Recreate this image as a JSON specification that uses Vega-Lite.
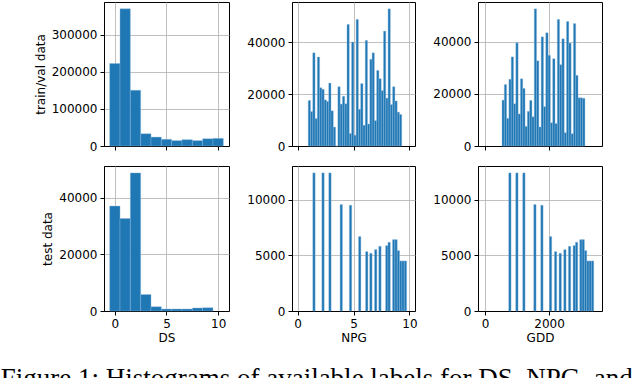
{
  "$schema": "https://vega.github.io/schema/vega-lite/v6.json",
  "background": "white",
  "padding": {"left": 0, "top": 1, "right": 0, "bottom": -14},
  "config": {
    "font": "DejaVu Sans",
    "view": {"stroke": "black", "strokeWidth": 1},
    "axis": {
      "labelFont": "DejaVu Sans", "labelFontSize": 12, "labelColor": "black",
      "titleFont": "DejaVu Sans", "titleFontSize": 12, "titleFontWeight": "normal", "titleColor": "black",
      "domainColor": "black", "domainWidth": 1, "tickColor": "black", "tickWidth": 1, "tickSize": 4,
      "labelPadding": 3, "titlePadding": 3, "gridColor": "#b0b0b0", "gridWidth": 0.8, "zindex": 1,
      "labelFlush": false, "labelOverlap": false
    },
    "axisX": {"labelAngle": 0},
    "axisY": {"titlePadding": 4}
  },
  "title": {
    "text": "Figure 1: Histograms of available labels for DS, NPG, and",
    "orient": "bottom", "anchor": "start", "frame": "bounds",
    "font": "Liberation Serif", "fontSize": 27, "fontWeight": "normal", "color": "black",
    "offset": 22.5, "dx": -33
  },
  "datasets": {
    "ds_train": [
      {"start": -0.5, "end": 0.5, "count": 222000}, {"start": 0.5, "end": 1.5, "count": 369000},
      {"start": 1.5, "end": 2.5, "count": 150000}, {"start": 2.5, "end": 3.5, "count": 33000},
      {"start": 3.5, "end": 4.5, "count": 24000}, {"start": 4.5, "end": 5.5, "count": 18000},
      {"start": 5.5, "end": 6.5, "count": 14500}, {"start": 6.5, "end": 7.5, "count": 17000},
      {"start": 7.5, "end": 8.5, "count": 14500}, {"start": 8.5, "end": 9.5, "count": 19500},
      {"start": 9.5, "end": 10.5, "count": 20500}
    ],
    "ds_test": [
      {"start": -0.5, "end": 0.5, "count": 37000}, {"start": 0.5, "end": 1.5, "count": 32600},
      {"start": 1.5, "end": 2.5, "count": 48700}, {"start": 2.5, "end": 3.5, "count": 5800},
      {"start": 3.5, "end": 4.5, "count": 1500}, {"start": 4.5, "end": 5.5, "count": 700},
      {"start": 5.5, "end": 6.5, "count": 700}, {"start": 6.5, "end": 7.5, "count": 700},
      {"start": 7.5, "end": 8.5, "count": 1050}, {"start": 8.5, "end": 9.5, "count": 1150}
    ],
    "npg_train": [
      {"start": 0.950, "end": 1.154, "count": 17600}, {"start": 1.154, "end": 1.358, "count": 13300},
      {"start": 1.358, "end": 1.562, "count": 36000}, {"start": 1.562, "end": 1.766, "count": 10600},
      {"start": 1.766, "end": 1.970, "count": 34400}, {"start": 1.970, "end": 2.174, "count": 22500},
      {"start": 2.174, "end": 2.378, "count": 21900}, {"start": 2.378, "end": 2.582, "count": 17800},
      {"start": 2.582, "end": 2.786, "count": 17200}, {"start": 2.786, "end": 2.990, "count": 24300},
      {"start": 2.990, "end": 3.194, "count": 13600}, {"start": 3.194, "end": 3.398, "count": 7300},
      {"start": 3.398, "end": 3.602, "count": 0}, {"start": 3.602, "end": 3.806, "count": 22900},
      {"start": 3.806, "end": 4.010, "count": 16200}, {"start": 4.010, "end": 4.214, "count": 19200},
      {"start": 4.214, "end": 4.418, "count": 16300}, {"start": 4.418, "end": 4.622, "count": 47000},
      {"start": 4.622, "end": 4.826, "count": 4800}, {"start": 4.826, "end": 5.030, "count": 40200},
      {"start": 5.030, "end": 5.234, "count": 4200}, {"start": 5.234, "end": 5.438, "count": 48900},
      {"start": 5.438, "end": 5.642, "count": 14200}, {"start": 5.642, "end": 5.846, "count": 24100},
      {"start": 5.846, "end": 6.050, "count": 8000}, {"start": 6.050, "end": 6.254, "count": 40800},
      {"start": 6.254, "end": 6.458, "count": 8500}, {"start": 6.458, "end": 6.662, "count": 33500},
      {"start": 6.662, "end": 6.866, "count": 36000}, {"start": 6.866, "end": 7.070, "count": 9800},
      {"start": 7.070, "end": 7.274, "count": 29200}, {"start": 7.274, "end": 7.478, "count": 26000},
      {"start": 7.478, "end": 7.682, "count": 21400}, {"start": 7.682, "end": 7.886, "count": 44400},
      {"start": 7.886, "end": 8.090, "count": 18500}, {"start": 8.090, "end": 8.294, "count": 53000},
      {"start": 8.294, "end": 8.498, "count": 16000}, {"start": 8.498, "end": 8.702, "count": 22900},
      {"start": 8.702, "end": 8.906, "count": 17400}, {"start": 8.906, "end": 9.110, "count": 13100},
      {"start": 9.110, "end": 9.314, "count": 12200}
    ],
    "npg_test": [
      {"start": 1.36, "end": 1.57, "count": 12430}, {"start": 2.17, "end": 2.38, "count": 12430},
      {"start": 2.79, "end": 3.00, "count": 12430}, {"start": 3.80, "end": 4.01, "count": 9580},
      {"start": 4.63, "end": 4.84, "count": 9520}, {"start": 5.45, "end": 5.66, "count": 6700},
      {"start": 6.08, "end": 6.29, "count": 5345}, {"start": 6.45, "end": 6.66, "count": 5195},
      {"start": 6.88, "end": 7.09, "count": 5525}, {"start": 7.26, "end": 7.47, "count": 5825},
      {"start": 7.87, "end": 8.08, "count": 5885}, {"start": 8.08, "end": 8.29, "count": 6185},
      {"start": 8.49, "end": 8.70, "count": 6425}, {"start": 8.70, "end": 8.91, "count": 6425},
      {"start": 8.91, "end": 9.12, "count": 5435}, {"start": 9.12, "end": 9.33, "count": 4505},
      {"start": 9.33, "end": 9.54, "count": 4505}, {"start": 9.54, "end": 9.75, "count": 4505}
    ],
    "gdd_train": [
      {"start": 530, "end": 602, "count": 17600}, {"start": 602, "end": 674, "count": 23600},
      {"start": 674, "end": 746, "count": 10600}, {"start": 746, "end": 818, "count": 25600},
      {"start": 818, "end": 890, "count": 34200}, {"start": 890, "end": 962, "count": 16200},
      {"start": 962, "end": 1034, "count": 39600}, {"start": 1034, "end": 1106, "count": 12300},
      {"start": 1106, "end": 1178, "count": 25800}, {"start": 1178, "end": 1250, "count": 22100},
      {"start": 1250, "end": 1322, "count": 7500}, {"start": 1322, "end": 1394, "count": 13300},
      {"start": 1394, "end": 1466, "count": 17500}, {"start": 1466, "end": 1538, "count": 11200},
      {"start": 1538, "end": 1610, "count": 52650}, {"start": 1610, "end": 1682, "count": 32700},
      {"start": 1682, "end": 1754, "count": 7300}, {"start": 1754, "end": 1826, "count": 41900},
      {"start": 1826, "end": 1898, "count": 15100}, {"start": 1898, "end": 1970, "count": 43450},
      {"start": 1970, "end": 2042, "count": 34800}, {"start": 2042, "end": 2114, "count": 8900},
      {"start": 2114, "end": 2186, "count": 33500}, {"start": 2186, "end": 2258, "count": 8600},
      {"start": 2258, "end": 2330, "count": 48600}, {"start": 2330, "end": 2402, "count": 31200},
      {"start": 2402, "end": 2474, "count": 41150}, {"start": 2474, "end": 2546, "count": 5100},
      {"start": 2546, "end": 2618, "count": 47800}, {"start": 2618, "end": 2690, "count": 39500},
      {"start": 2690, "end": 2762, "count": 4700}, {"start": 2762, "end": 2834, "count": 47000},
      {"start": 2834, "end": 2906, "count": 27100}, {"start": 2906, "end": 2978, "count": 18500},
      {"start": 2978, "end": 3050, "count": 18500}, {"start": 3050, "end": 3122, "count": 18300}
    ],
    "gdd_test": [
      {"start": 740, "end": 813, "count": 12430}, {"start": 959, "end": 1032, "count": 12430},
      {"start": 1178, "end": 1251, "count": 12430}, {"start": 1522, "end": 1595, "count": 9580},
      {"start": 1741, "end": 1814, "count": 9520}, {"start": 2011, "end": 2084, "count": 6700},
      {"start": 2168, "end": 2241, "count": 5345}, {"start": 2313, "end": 2386, "count": 5195},
      {"start": 2459, "end": 2532, "count": 5525}, {"start": 2605, "end": 2678, "count": 5825},
      {"start": 2751, "end": 2824, "count": 5885}, {"start": 2824, "end": 2897, "count": 6185},
      {"start": 2959, "end": 3032, "count": 6425}, {"start": 3032, "end": 3105, "count": 6425},
      {"start": 3105, "end": 3178, "count": 5435}, {"start": 3178, "end": 3251, "count": 4505},
      {"start": 3251, "end": 3324, "count": 4505}, {"start": 3324, "end": 3397, "count": 4505}
    ]
  },
  "columns": 3,
  "spacing": {"row": 20, "column": 63},
  "bounds": "flush",
  "align": "each",
  "concat": [
    {
      "data": {"name": "ds_train"}, "width": 125, "height": 144,
      "mark": {"type": "rect", "color": "#1f77b4", "stroke": "#8ab8de", "strokeWidth": 0.4},
      "encoding": {
        "x": {"field": "start", "type": "quantitative", "scale": {"domain": [-1.05, 11.05], "nice": false, "zero": false}, "axis": {"values": [0, 5, 10], "labels": false, "title": null}},
        "x2": {"field": "end"},
        "y": {"field": "count", "type": "quantitative", "scale": {"domain": [0, 387450], "nice": false}, "axis": {"values": [0, 100000, 200000, 300000], "format": "d", "title": "train/val data"}},
        "y2": {"datum": 0}
      }
    },
    {
      "data": {"name": "npg_train"}, "width": 123, "height": 144,
      "mark": {"type": "rect", "color": "#1f77b4", "stroke": "#8ab8de", "strokeWidth": 0.4},
      "encoding": {
        "x": {"field": "start", "type": "quantitative", "scale": {"domain": [-0.5, 10.5], "nice": false, "zero": false}, "axis": {"values": [0, 5, 10], "labels": false, "title": null}},
        "x2": {"field": "end"},
        "y": {"field": "count", "type": "quantitative", "scale": {"domain": [0, 55650], "nice": false}, "axis": {"values": [0, 20000, 40000], "format": "d", "title": null}},
        "y2": {"datum": 0}
      }
    },
    {
      "data": {"name": "gdd_train"}, "width": 124, "height": 144,
      "mark": {"type": "rect", "color": "#1f77b4", "stroke": "#8ab8de", "strokeWidth": 0.4},
      "encoding": {
        "x": {"field": "start", "type": "quantitative", "scale": {"domain": [-220, 3655], "nice": false, "zero": false}, "axis": {"values": [0, 2000], "labels": false, "title": null}},
        "x2": {"field": "end"},
        "y": {"field": "count", "type": "quantitative", "scale": {"domain": [0, 55283], "nice": false}, "axis": {"values": [0, 20000, 40000], "format": "d", "title": null}},
        "y2": {"datum": 0}
      }
    },
    {
      "data": {"name": "ds_test"}, "width": 125, "height": 145,
      "mark": {"type": "rect", "color": "#1f77b4", "stroke": "#8ab8de", "strokeWidth": 0.4},
      "encoding": {
        "x": {"field": "start", "type": "quantitative", "scale": {"domain": [-1.05, 11.05], "nice": false, "zero": false}, "axis": {"values": [0, 5, 10], "format": "d", "title": "DS"}},
        "x2": {"field": "end"},
        "y": {"field": "count", "type": "quantitative", "scale": {"domain": [0, 51135], "nice": false}, "axis": {"values": [0, 20000, 40000], "format": "d", "title": "test data"}},
        "y2": {"datum": 0}
      }
    },
    {
      "data": {"name": "npg_test"}, "width": 123, "height": 145,
      "mark": {"type": "rect", "color": "#1f77b4", "stroke": "#8ab8de", "strokeWidth": 0.4},
      "encoding": {
        "x": {"field": "start", "type": "quantitative", "scale": {"domain": [-0.5, 10.5], "nice": false, "zero": false}, "axis": {"values": [0, 5, 10], "format": "d", "title": "NPG"}},
        "x2": {"field": "end"},
        "y": {"field": "count", "type": "quantitative", "scale": {"domain": [0, 13052], "nice": false}, "axis": {"values": [0, 5000, 10000], "format": "d", "title": null}},
        "y2": {"datum": 0}
      }
    },
    {
      "data": {"name": "gdd_test"}, "width": 124, "height": 145,
      "mark": {"type": "rect", "color": "#1f77b4", "stroke": "#8ab8de", "strokeWidth": 0.4},
      "encoding": {
        "x": {"field": "start", "type": "quantitative", "scale": {"domain": [-220, 3655], "nice": false, "zero": false}, "axis": {"values": [0, 2000], "format": "d", "title": "GDD"}},
        "x2": {"field": "end"},
        "y": {"field": "count", "type": "quantitative", "scale": {"domain": [0, 13052], "nice": false}, "axis": {"values": [0, 5000, 10000], "format": "d", "title": null}},
        "y2": {"datum": 0}
      }
    }
  ]
}
